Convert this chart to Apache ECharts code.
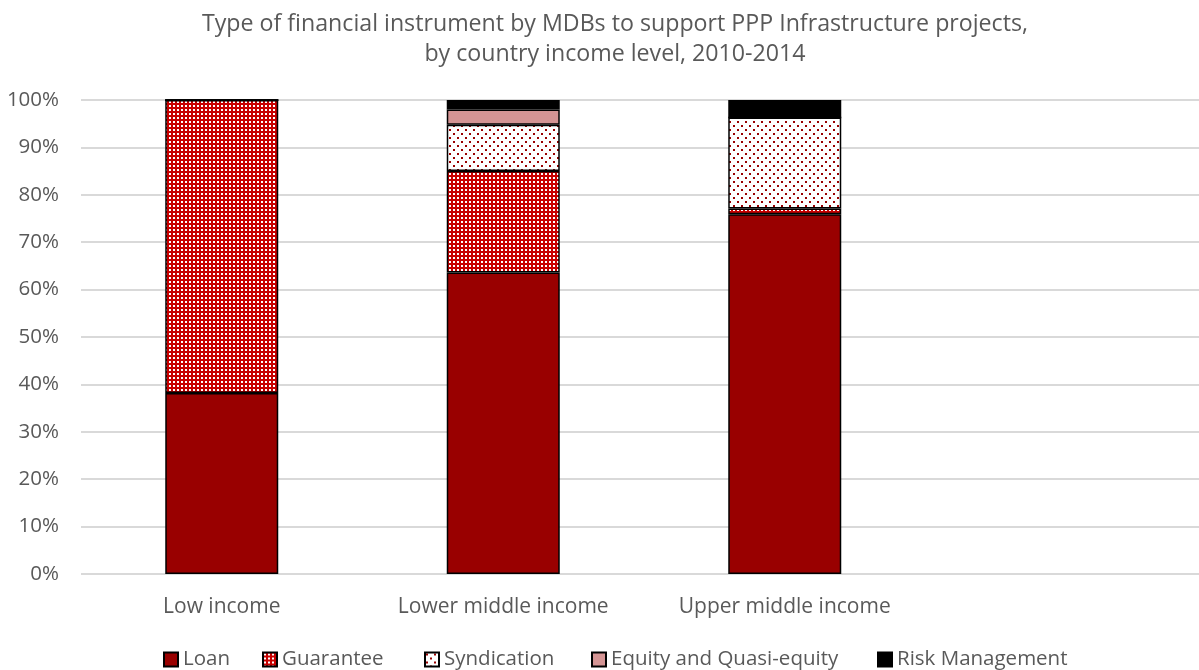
<!DOCTYPE html>
<html>
<head>
<meta charset="utf-8">
<script src="https://cdn.jsdelivr.net/npm/echarts@6/dist/echarts.min.js"></script>
<style>
  html, body { margin: 0; padding: 0; background: #fff; overflow: hidden; }
  #chart { width: 1212px; height: 670px; }
</style>
</head>
<body>
<div id="chart"></div>
<script>
// Share of MDB financing by instrument (%), per country income group
const categories = ['Low income', 'Lower middle income', 'Upper middle income', ''];
const seriesNames = ['Loan', 'Guarantee', 'Syndication', 'Equity and Quasi-equity', 'Risk Management'];
const loan        = [38.2, 63.6, 75.9, null];
const guarantee   = [61.8, 21.4, 1.2, null];
const syndication = [0, 9.8, 19.2, null];
const equity      = [0, 3.2, 0, null];
const riskMgmt    = [0, 2.0, 3.7, null];
const yTicks = [0, 10, 20, 30, 40, 50, 60, 70, 80, 90, 100];

const FONT = '"Open Sans", "Noto Sans", sans-serif';
const GREY = '#595959';

// Fill patterns drawn on small canvases and tiled
function makeTile(size, bg, dot, dots, dotSize) {
  const c = document.createElement('canvas');
  c.width = size; c.height = size;
  const ctx = c.getContext('2d');
  ctx.fillStyle = bg;
  ctx.fillRect(0, 0, size, size);
  ctx.fillStyle = dot;
  dots.forEach(function (p) { ctx.fillRect(p[0], p[1], dotSize, dotSize); });
  return c;
}
const guaranteeFill = { image: makeTile(4, '#c80000', '#ffffff', [[1, 1]], 2), repeat: 'repeat' };
const syndicationFill = { image: makeTile(8, '#ffffff', '#990000', [[1, 1], [5, 5]], 2), repeat: 'repeat' };

const border = { borderColor: '#000', borderWidth: 1.5 };
function barSeries(name, data, color) {
  return {
    name: name,
    type: 'bar',
    stack: 'total',
    barWidth: 113,
    data: data,
    itemStyle: Object.assign({ color: color }, border),
    emphasis: { disabled: true }
  };
}

// One legend entry per component so each key sits at its own spot along the bottom row
const legendLeft = [163, 262, 424, 591, 877];
const legends = seriesNames.map(function (name, i) {
  return {
    bottom: 0,
    left: legendLeft[i],
    padding: 0,
    itemWidth: 14,
    itemHeight: 14,
    icon: 'rect',
    textStyle: { color: GREY, fontSize: 20.5, fontFamily: FONT },
    data: [name]
  };
});

const chart = echarts.init(document.getElementById('chart'), null, { renderer: 'canvas' });
chart.setOption({
  animation: false,
  textStyle: { fontFamily: FONT },
  title: {
    text: 'Type of financial instrument by MDBs to support PPP Infrastructure projects,\nby country income level, 2010-2014',
    left: 610,
    textAlign: 'center',
    top: 4,
    textStyle: { color: GREY, fontSize: 23.2, fontWeight: 'normal', lineHeight: 30, fontFamily: FONT }
  },
  legend: legends,
  grid: { left: 81, width: 1126, top: 100, bottom: 96, containLabel: false },
  xAxis: {
    type: 'category',
    data: categories,
    axisLine: { show: false },
    axisTick: { show: false },
    axisLabel: { color: GREY, fontSize: 21, margin: 23, fontFamily: FONT }
  },
  yAxis: {
    type: 'value',
    min: yTicks[0],
    max: yTicks[yTicks.length - 1],
    interval: yTicks[1] - yTicks[0],
    axisLine: { show: false },
    axisTick: { show: false },
    axisLabel: { color: GREY, fontSize: 20.5, margin: 22, formatter: '{value}%', fontFamily: FONT },
    splitLine: { lineStyle: { color: '#d9d9d9', width: 2 } }
  },
  series: [
    barSeries(seriesNames[0], loan, '#990000'),
    barSeries(seriesNames[1], guarantee, guaranteeFill),
    barSeries(seriesNames[2], syndication, syndicationFill),
    barSeries(seriesNames[3], equity, '#d49494'),
    barSeries(seriesNames[4], riskMgmt, '#000000')
  ]
});
</script>
</body>
</html>
